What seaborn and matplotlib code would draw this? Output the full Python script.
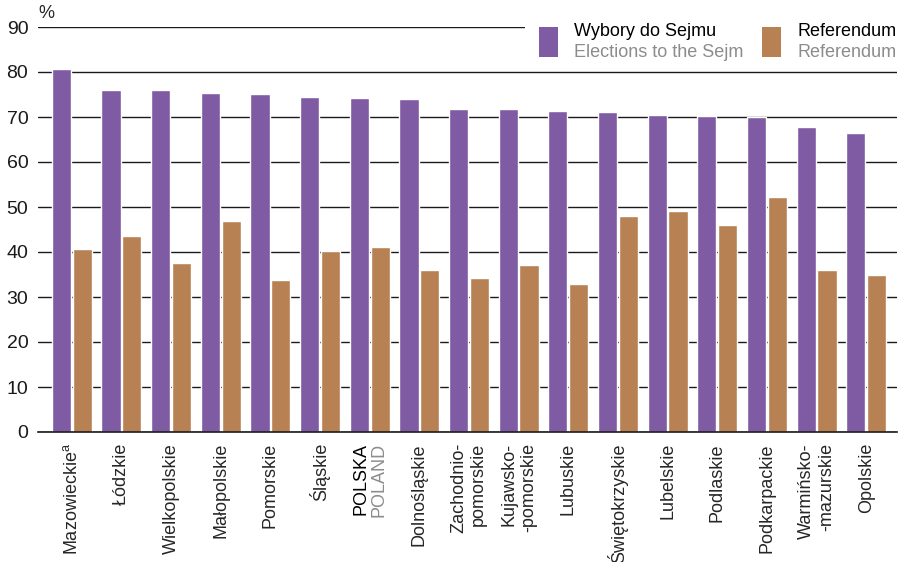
import pandas as pd
import numpy as np
import matplotlib
matplotlib.use("Agg")
import matplotlib.pyplot as plt
from matplotlib.patches import Rectangle
import seaborn as sns

# Data
regions = ["Mazowieckie", "Łódzkie", "Wielkopolskie", "Małopolskie", "Pomorskie",
           "Śląskie", "POLSKA", "Dolnośląskie", "Zachodniopomorskie",
           "Kujawsko-pomorskie", "Lubuskie", "Świętokrzyskie", "Lubelskie",
           "Podlaskie", "Podkarpackie", "Warmińsko-mazurskie", "Opolskie"]
tick_labels = ["Mazowieckie$^{\\rm a}$", "Łódzkie", "Wielkopolskie", "Małopolskie",
               "Pomorskie", "Śląskie", "", "Dolnośląskie", "Zachodnio-\npomorskie",
               "Kujawsko-\n-pomorskie", "Lubuskie", "Świętokrzyskie", "Lubelskie",
               "Podlaskie", "Podkarpackie", "Warmińsko-\n-mazurskie", "Opolskie"]
sejm = [80.7, 76.0, 76.0, 75.3, 75.1, 74.4, 74.2, 74.0, 71.8,
        71.8, 71.3, 71.1, 70.4, 70.2, 70.0, 67.8, 66.4]
referendum = [40.7, 43.6, 37.6, 46.9, 33.8, 40.2, 41.1, 36.0, 34.2,
              37.1, 32.9, 48.0, 49.1, 46.0, 52.2, 36.0, 34.9]
series_pl = ["Wybory do Sejmu", "Referendum"]
series_en = ["Elections to the Sejm", "Referendum"]

purple = "#7f5ba3"
brown = "#b88153"
gray = "#8c8c8c"
fs = 13

df = pd.DataFrame({
    "region": regions * 2,
    "value": sejm + referendum,
    "series": [series_pl[0]] * len(regions) + [series_pl[1]] * len(regions),
})

sns.set_style("white")
plt.rcParams["font.family"] = ["Liberation Sans", "DejaVu Sans"]
plt.rcParams["mathtext.fontset"] = "custom"
plt.rcParams["mathtext.rm"] = "Liberation Sans"

fig = plt.figure(figsize=(8.98, 5.62), dpi=100)
ax = fig.add_axes([38 / 898, 1 - 432 / 562, 859 / 898, 405 / 562])

sns.barplot(data=df, x="region", y="value", hue="series", palette=[purple, brown],
            width=0.84, gap=0.08, saturation=1, legend=False, ax=ax)

ax.set_ylim(0, 90)
ax.set_xlim(-0.68, len(regions) - 1 + 0.62)
ax.set_yticks(np.arange(0, 91, 10))
ax.set_axisbelow(True)
ax.yaxis.grid(True, color="#1a1a1a", linewidth=1.0)
ax.xaxis.grid(False)
for s in ["left", "right", "top"]:
    ax.spines[s].set_visible(False)
ax.spines["bottom"].set_color("#1a1a1a")
ax.spines["bottom"].set_linewidth(1.2)
ax.set_xlabel("")
ax.set_ylabel("")
ax.tick_params(axis="y", length=0, pad=7, labelsize=14, colors="#1a1a1a")
ax.tick_params(axis="x", length=0, pad=8)
ax.set_xticks(range(len(regions)))
ax.set_xticklabels(tick_labels, rotation=90, va="top", ha="center",
                   fontsize=fs, multialignment="right")

# POLSKA / POLAND two-colour label
pi = regions.index("POLSKA")
ax.annotate("POLSKA", xy=(pi, 0), xycoords=("data", "axes fraction"),
            xytext=(-6.5, -8), textcoords="offset points", rotation=90,
            ha="center", va="top", fontsize=fs, color="black")
ax.annotate("POLAND", xy=(pi, 0), xycoords=("data", "axes fraction"),
            xytext=(6.5, -8), textcoords="offset points", rotation=90,
            ha="center", va="top", fontsize=fs, color=gray)

# % unit label
ax.text(0, 1.012, "%", transform=ax.transAxes, ha="left", va="bottom", fontsize=fs)

# legend drawn by hand (two-language labels)
ax.add_patch(Rectangle((0.567, 0.975), 0.44, 0.05, transform=ax.transAxes,
                       facecolor="white", edgecolor="none", zorder=1, clip_on=False))
for x0, col, pl, en in [(0.583, purple, series_pl[0], series_en[0]),
                        (0.843, brown, series_pl[1], series_en[1])]:
    ax.add_patch(Rectangle((x0, 0.926), 0.0221, 0.074, transform=ax.transAxes,
                           facecolor=col, edgecolor="none", zorder=2, clip_on=False))
    ax.text(x0 + 0.041, 0.988, pl, transform=ax.transAxes, ha="left", va="center",
            fontsize=fs, color="black", zorder=3)
    ax.text(x0 + 0.041, 0.937, en, transform=ax.transAxes, ha="left", va="center",
            fontsize=fs, color=gray, zorder=3)

fig.savefig("out.png", dpi=100)
